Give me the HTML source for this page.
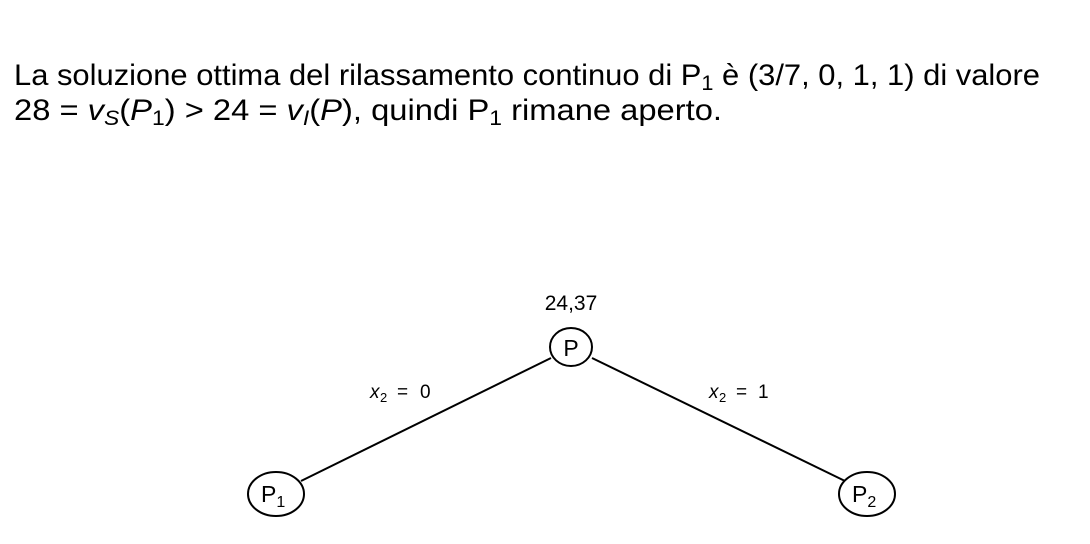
<!DOCTYPE html>
<html><head><meta charset="utf-8"><style>
html,body{margin:0;padding:0;background:#fff;}
svg{display:block;}
text{font-family:"Liberation Sans",sans-serif;fill:#000;}
.it{font-style:italic;}
</style></head><body>
<svg width="1090" height="544" viewBox="0 0 1090 544">
<text x="14" y="85" font-size="30" textLength="1026" lengthAdjust="spacingAndGlyphs">La soluzione ottima del rilassamento continuo di P<tspan font-size="21" dy="5">1</tspan><tspan dy="-5"> è (3/7, 0, 1, 1) di valore</tspan></text>
<text x="14" y="120" font-size="30" textLength="708" lengthAdjust="spacingAndGlyphs">28 = <tspan class="it">v</tspan><tspan class="it" font-size="21" dy="5">S</tspan><tspan dy="-5">(</tspan><tspan class="it">P</tspan><tspan font-size="21" dy="5">1</tspan><tspan dy="-5">) &gt; 24 = </tspan><tspan class="it">v</tspan><tspan class="it" font-size="21" dy="5">I</tspan><tspan dy="-5">(</tspan><tspan class="it">P</tspan><tspan>), quindi P</tspan><tspan font-size="21" dy="5">1</tspan><tspan dy="-5"> rimane aperto.</tspan></text>

<line x1="551" y1="358" x2="301" y2="481" stroke="#000" stroke-width="2"/>
<line x1="592" y1="358" x2="845" y2="481" stroke="#000" stroke-width="2"/>

<text x="571" y="310" font-size="21" text-anchor="middle">24,37</text>
<ellipse cx="571" cy="347" rx="21" ry="19" fill="#fff" stroke="#000" stroke-width="2"/>
<text x="571" y="356" font-size="23" text-anchor="middle">P</text>

<ellipse cx="276" cy="494" rx="28" ry="22" fill="#fff" stroke="#000" stroke-width="2"/>
<text x="261" y="502" font-size="23">P<tspan font-size="16" dy="5">1</tspan></text>

<ellipse cx="867" cy="494" rx="28" ry="22" fill="#fff" stroke="#000" stroke-width="2"/>
<text x="852" y="502" font-size="23">P<tspan font-size="16" dy="5">2</tspan></text>

<text y="398" font-size="19"><tspan class="it" x="370">x</tspan><tspan font-size="13" x="380" dy="4">2</tspan><tspan x="397" dy="-4">=</tspan><tspan x="420">0</tspan></text>
<text y="398" font-size="19"><tspan class="it" x="709">x</tspan><tspan font-size="13" x="719" dy="4">2</tspan><tspan x="736" dy="-4">=</tspan><tspan x="758">1</tspan></text>
</svg>
</body></html>
